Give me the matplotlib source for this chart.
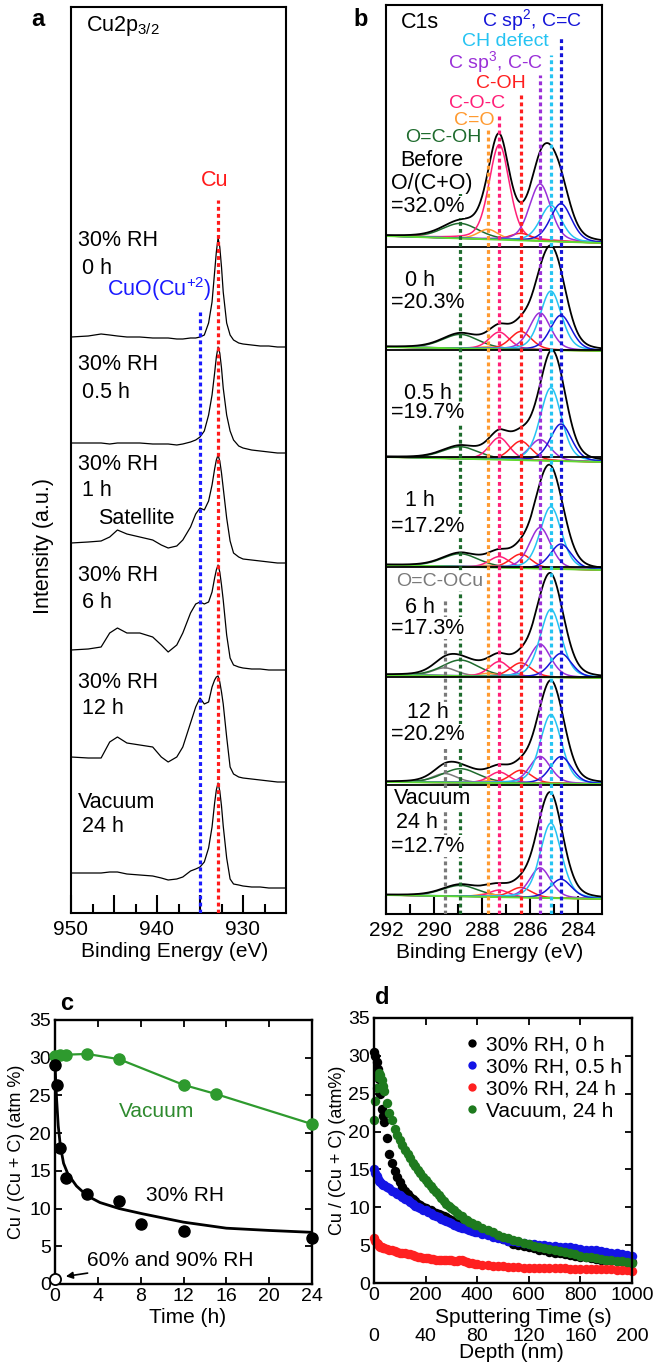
import numpy as np
import matplotlib.pyplot as plt
from matplotlib.lines import Line2D

plt.rcParams['font.family'] = ['Liberation Sans', 'DejaVu Sans']
plt.rcParams['mathtext.fontset'] = 'custom'
plt.rcParams['mathtext.rm'] = 'Liberation Sans'
plt.rcParams['mathtext.it'] = 'Liberation Sans:italic'
plt.rcParams['mathtext.bf'] = 'Liberation Sans:bold'

W, H = 662, 1366

# ---------------- panel a : Cu2p3/2 spectra (heights above own baseline) ----------------
cu_energy = [950, 948, 946.5, 945.5, 944.6, 943.5, 942, 940.5, 939.5, 938.7,
             937.7, 937, 936.1, 935.5, 935, 934.5, 934.0, 933.6, 933.3, 933.1,
             932.9, 932.7, 932.5, 932.3, 931.9, 931.5, 931.1, 930.5, 930, 929,
             928, 927, 926, 925]
cu_0h = [10, 11, 13, 12, 11, 10, 10, 9, 9, 9,
         8, 8, 9, 9, 10, 12, 24, 45, 75, 95,
         109, 100, 80, 55, 24, 12, 7, 4, 3, 2,
         1, 1, 0, 0]
cu_05h = [10, 10, 10, 9, 10, 10, 10, 9, 9, 9,
          8, 9, 11, 13, 16, 22, 38, 58, 80, 96,
          106, 100, 85, 65, 38, 22, 13, 7, 5, 3,
          2, 1, 0, 0]
cu_1h = [20, 21, 22, 26, 33, 29, 26, 23, 18, 15,
         17, 23, 36, 49, 55, 53, 62, 78, 94, 103,
         108, 102, 90, 75, 45, 22, 10, 6, 4, 3,
         2, 1, 0, 0]
cu_6h = [20, 21, 23, 37, 42, 37, 37, 33, 25, 18,
         25, 37, 57, 66, 68, 66, 68, 78, 92, 100,
         105, 98, 85, 70, 35, 12, 5, 3, 2, 1,
         1, 0, 0, 0]
cu_12h = [25, 24, 24, 40, 45, 39, 37, 35, 25, 20,
          25, 35, 59, 75, 84, 78, 80, 95, 102, 105,
          106, 100, 90, 78, 45, 15, 8, 5, 4, 3,
          2, 1, 0, 0]
cu_vac24h = [15, 15, 15, 16, 16, 14, 13, 12, 10, 8,
             9, 11, 17, 19, 21, 26, 40, 61, 85, 98,
             105, 97, 82, 62, 30, 9, 4, 3, 2, 1,
             1, 0, 0, 0]
cu_spectra = [cu_0h, cu_05h, cu_1h, cu_6h, cu_12h, cu_vac24h]
cu_offsets = [566, 460, 350, 243, 131, 25]
cu_metal_ev = 932.85
cuo_ev = 935.0

# ---------------- panel b : C1s fitted components ----------------
comp_names = ['O=C-OCu', 'O=C-OH', 'C=O', 'C-O-C', 'C-OH',
              'C sp$^3$, C-C', 'CH defect', 'C sp$^2$, C=C']
comp_centers = [289.55, 288.9, 287.75, 287.28, 286.38, 285.58, 285.13, 284.71]
comp_fwhm = [1.2, 1.8, 1.0, 1.0, 1.05, 1.05, 1.05, 1.05]
comp_colors = ['#7a7a7a', '#1e6b2d', '#ff9a30', '#ff1f78', '#ff1f1f',
               '#9a30d8', '#25c3f2', '#1414d8']
c1s_heights = [
    [0, 15, 10, 95, 7, 57, 36, 38],    # before
    [0, 14, 2, 17, 18, 37, 59, 35],    # 0 h
    [0, 12, 2, 22, 19, 21, 73, 37],    # 0.5 h
    [0, 13, 2, 11, 14, 41, 62, 25],    # 1 h
    [8, 16, 3, 15, 14, 33, 68, 24],    # 6 h
    [9, 14, 2, 11, 13, 27, 69, 27],    # 12 h
    [0, 11, 3, 7, 10, 30, 75, 19],     # vacuum 24 h
]
c1s_offsets = [671, 563, 452, 344, 236, 130, 15]
c1s_tilts = [7, 4, 5, 5, 3, 2, 4]
c1s_separators = [667, 564, 457, 347, 237, 129]
comp_line_tops = [316, 764, 784, 799, 819, 839, 859, 877]

# ---------------- panel c : Cu/(Cu+C) vs time ----------------
vac_hours = [0, 0.5, 1, 3, 6, 12, 15, 24]
vac_cu = [30.2, 30.3, 30.4, 30.5, 29.8, 26.4, 25.2, 21.2]
rh30_hours = [0, 0.17, 0.5, 1, 3, 6, 8, 12, 24]
rh30_cu = [29.0, 26.4, 18.0, 14.1, 11.9, 11.05, 7.95, 7.07, 6.1]
fit_hours = [0, 0.05, 0.15, 0.3, 0.5, 0.8, 1.2, 2, 3, 4.2, 6, 8.2, 12, 16, 20, 24]
fit_cu = [29.5, 27.5, 24.5, 21.0, 18.3, 16.0, 14.6, 13.0, 11.7, 10.8, 10.0, 9.3,
          8.2, 7.4, 7.1, 6.85]
rh6090_hours = [0]
rh6090_cu = [0.6]

# ---------------- panel d : depth profiles ----------------
sput_time = ([0, 5, 10, 15, 20, 25, 30, 35, 40]
             + list(range(50, 401, 10))
             + list(range(420, 1001, 20)))
prof_rh30_0h = [30.5, 30.0, 29.2, 28.2, 27.0, 25.0, 23.0, 22.0, 21.2,
                19.2, 17.0, 15.8, 14.8, 14.0, 13.3, 12.7, 12.2, 11.8, 11.4,
                11.1, 10.8, 10.5, 10.3, 10.1, 9.9, 9.7, 9.6, 9.4, 9.3,
                9.1, 9.0, 8.8, 8.7, 8.5, 8.3, 8.1, 7.9, 7.7, 7.6,
                7.5, 7.4, 7.3, 7.2, 7.1, 7.0,
                6.8, 6.6, 6.3, 6.1, 5.8, 5.5, 5.2, 5.0, 4.9, 4.7,
                4.6, 4.4, 4.3, 4.1, 4.0, 3.9, 3.8, 3.7, 3.6, 3.5,
                3.4, 3.3, 3.2, 3.1, 3.1, 3.0, 2.9, 2.9, 2.8, 2.8]
prof_rh30_05h = [15.0, 14.5, 14.1, 13.8, 13.5, 13.3, 13.1, 13.0, 12.9,
                 12.7, 12.5, 12.2, 12.0, 11.8, 11.6, 11.4, 11.1, 10.9, 10.7,
                 10.4, 10.2, 10.0, 9.9, 9.7, 9.6, 9.4, 9.2, 9.0, 8.9,
                 8.7, 8.5, 8.3, 8.2, 8.0, 7.9, 7.7, 7.5, 7.4, 7.3,
                 7.2, 7.1, 7.0, 6.9, 6.8, 6.7,
                 6.5, 6.3, 6.1, 5.9, 5.8, 5.6, 5.5, 5.4, 5.3, 5.2,
                 5.1, 5.0, 5.0, 4.9, 4.9, 4.8, 4.7, 4.7, 4.6, 4.5,
                 4.4, 4.4, 4.3, 4.2, 4.1, 4.0, 3.9, 3.8, 3.7, 3.6]
prof_rh30_24h = [6.0, 5.6, 5.3, 5.1, 4.9, 4.8, 4.7, 4.65, 4.6,
                 4.5, 4.4, 4.3, 4.2, 4.1, 4.0, 3.95, 3.9, 3.85, 3.8,
                 3.7, 3.6, 3.5, 3.4, 3.35, 3.3, 3.25, 3.2, 3.15, 3.1,
                 3.05, 3.0, 3.0, 3.0, 3.0, 3.0, 2.95, 2.9, 3.0, 3.0,
                 2.9, 2.8, 2.7, 2.6, 2.55, 2.5,
                 2.4, 2.4, 2.3, 2.2, 2.2, 2.1, 2.1, 2.1, 2.0, 2.0,
                 2.0, 2.0, 2.0, 2.0, 2.0, 2.0, 2.0, 1.9, 1.9, 1.9,
                 1.9, 1.9, 1.9, 1.8, 1.8, 1.8, 1.7, 1.7, 1.7, 1.6]
prof_vac_24h = [21.5, 24.0, 25.8, 27.2, 27.8, 27.5, 26.8, 26.0, 25.3,
                23.8, 22.5, 21.5, 20.4, 19.6, 18.9, 18.2, 17.6, 17.0, 16.5,
                15.9, 15.4, 14.9, 14.5, 14.0, 13.6, 13.2, 12.8, 12.4, 12.0,
                11.6, 11.2, 10.8, 10.5, 10.2, 9.9, 9.6, 9.3, 9.0, 8.8,
                8.5, 8.3, 8.1, 7.9, 7.7, 7.6,
                7.3, 7.0, 6.7, 6.4, 6.1, 5.9, 5.7, 5.5, 5.3, 5.1,
                4.9, 4.8, 4.6, 4.5, 4.4, 4.2, 4.1, 3.9, 3.8, 3.6,
                3.5, 3.4, 3.3, 3.2, 3.1, 3.0, 2.9, 2.9, 2.8, 2.7]
prof_labels = ['30% RH, 0 h', '30% RH, 0.5 h', '30% RH, 24 h', 'Vacuum, 24 h']
prof_colors = ['#000000', '#1414e6', '#ff2020', '#1e7a1e']


def box(l, t, r, b):
    return [l / W, 1 - b / H, (r - l) / W, (b - t) / H]


def ftext(x, y, s, **kw):
    fig.text(x / W, 1 - y / H, s, **kw)


def pvoigt(x, c, h, w, eta=0.3):
    g = np.exp(-4 * np.log(2) * (x - c) ** 2 / w ** 2)
    lor = 1 / (1 + 4 * (x - c) ** 2 / w ** 2)
    return h * (eta * lor + (1 - eta) * g)


fig = plt.figure(figsize=(6.62, 13.66), dpi=100)
dots = (0, (1.2, 1.0))

# ---- a ----
ax = fig.add_axes(box(71, 7, 286, 913))
for spec, off in zip(cu_spectra, cu_offsets):
    ax.plot(cu_energy, np.array(spec) + off, color='k', lw=0.9)
ax.plot([cu_metal_ev, cu_metal_ev], [0, 713], color='#ff1a1a', lw=2.3, ls=dots, zorder=3)
ax.plot([cuo_ev, cuo_ev], [0, 601], color='#1a1aff', lw=2.3, ls=dots, zorder=3)
ax.set_xlim(950, 925)
ax.set_ylim(0, 906)
ax.set_yticks([])
ax.set_xticks([950, 945, 940, 935, 930])
ax.set_xticklabels(['950', '', '940', '', '930'])
ax.set_xticks([947.5, 942.5, 937.5, 932.5, 927.5], minor=True)
ax.tick_params(axis='x', which='major', direction='in', length=13, width=1.5, labelsize=15, pad=5)
ax.tick_params(axis='x', which='minor', direction='in', length=6.5, width=1.5)
for s in ax.spines.values():
    s.set_linewidth(1.5)
ax.set_xlabel('Binding Energy (eV)', fontsize=15)
ax.xaxis.set_label_coords(0.48, -0.032)
ax.set_ylabel('Intensity (a.u.)', fontsize=15.5)
ax.yaxis.set_label_coords(-0.08, 0.405)

fs = 15.5
ftext(86, 26, 'Cu2p$_{3/2}$', fontsize=fs, va='center')
ftext(215, 180, 'Cu', fontsize=fs, color='#ff1a1a', ha='center', va='center')
ftext(107, 289, 'CuO(Cu$^{+2}$)', fontsize=fs, color='#1a1aff', va='center')
ftext(98, 518, 'Satellite', fontsize=fs, va='center')
a_labels = [('30% RH', '0 h', 240, 268), ('30% RH', '0.5 h', 365, 392),
            ('30% RH', '1 h', 465, 490), ('30% RH', '6 h', 575, 602),
            ('30% RH', '12 h', 682, 708), ('Vacuum', '24 h', 802, 827)]
for l1, l2, y1, y2 in a_labels:
    ftext(78, y1, l1, fontsize=fs, va='center')
    ftext(82, y2, l2, fontsize=fs, va='center')

# ---- b ----
ax = fig.add_axes(box(386, 5, 602, 914))
xe = np.linspace(283, 292, 500)
for heights, off, tilt in zip(c1s_heights, c1s_offsets, c1s_tilts):
    base = off + tilt * (xe - 283) / 9.0
    total = base.copy()
    for c, h, w, col in zip(comp_centers, heights, comp_fwhm, comp_colors):
        if h <= 0:
            continue
        comp = pvoigt(xe, c, h, w)
        total += comp
        ax.plot(xe, base + comp, color=col, lw=1.1)
    ax.plot(xe, base, color='#5fdc32', lw=1.4)
    ax.plot(xe, total, color='k', lw=1.3)
for y in c1s_separators:
    ax.axhline(y, color='k', lw=1.3)
for c, col, top in zip(comp_centers, comp_colors, comp_line_tops):
    ax.plot([c, c], [0, top], color=col, lw=2.3, ls=dots, zorder=3)
ax.set_xlim(292, 283)
ax.set_ylim(0, 909)
ax.set_yticks([])
ax.set_xticks([292, 290, 288, 286, 284])
ax.set_xticks([291, 289, 287, 285], minor=True)
ax.tick_params(axis='x', which='major', direction='in', length=13, width=1.5, labelsize=15, pad=5)
ax.tick_params(axis='x', which='minor', direction='in', length=7, width=1.5)
for s in ax.spines.values():
    s.set_linewidth(1.5)
ax.set_xlabel('Binding Energy (eV)', fontsize=15)
ax.xaxis.set_label_coords(0.48, -0.032)

wb = dict(facecolor='white', edgecolor='none', pad=0.3)
ftext(420, 22, 'C1s', fontsize=fs, ha='center', va='center')
name_pos = [(440, 582), (443.5, 138), (474, 120.5), (477, 104), (501, 83),
            (496, 62), (505, 42), (532, 20)]
for i, (name, col, (x, y)) in enumerate(zip(comp_names, comp_colors, name_pos)):
    ftext(x, y, name, fontsize=14, color=col, ha='center', va='center',
          bbox=wb if i == 0 else None)
b_labels = [('Before', 432, 161), ('O/(C+O)', 432, 183), ('=32.0%', 428, 207),
            ('0 h', 420, 281), ('=20.3%', 428, 302),
            ('0.5 h', 428, 393), ('=19.7%', 428, 413),
            ('1 h', 420, 500), ('=17.2%', 428, 526),
            ('6 h', 420, 607), ('=17.3%', 428, 628),
            ('12 h', 428, 713), ('=20.2%', 428, 735),
            ('Vacuum', 433, 799), ('24 h', 417, 823), ('=12.7%', 428, 846)]
for s, x, y in b_labels:
    ftext(x, y, s, fontsize=fs, ha='center', va='center', bbox=wb)

# ---- c ----
ax = fig.add_axes(box(55, 1020, 312, 1284))
ax.plot(vac_hours, vac_cu, color='#2e9a2e', lw=1.6, marker='o', ms=8, clip_on=False, zorder=3)
ax.plot(fit_hours, fit_cu, color='k', lw=2, zorder=2)
ax.plot(rh30_hours, rh30_cu, 'o', color='k', ms=8, clip_on=False, zorder=4)
ax.plot(rh6090_hours, rh6090_cu, 'o', mfc='white', mec='k', mew=1.3, ms=8, clip_on=False, zorder=5)
ax.text(9.5, 22.9, 'Vacuum', fontsize=15, color='#2e8a2e', ha='center', va='center')
ax.text(12.1, 11.7, '30% RH', fontsize=15, ha='center', va='center')
ax.annotate('60% and 90% RH', xy=(0.5, 0.9), xytext=(3.0, 3.1), fontsize=15, va='center',
            arrowprops=dict(arrowstyle='-|>', color='k', lw=1.2, shrinkA=1, shrinkB=4,
                            mutation_scale=10))
ax.set_xlim(0, 24)
ax.set_ylim(0, 35)
ax.set_xticks(range(0, 25, 4))
ax.set_yticks(range(0, 36, 5))
ax.tick_params(direction='in', top=True, right=True, length=5, width=1.3, labelsize=14, pad=3)
for s in ax.spines.values():
    s.set_linewidth(1.7)
ax.set_xlabel('Time (h)', fontsize=15)
ax.xaxis.set_label_coords(0.516, -0.09)
ax.set_ylabel('Cu / (Cu + C) (atm %)', fontsize=13)
ax.yaxis.set_label_coords(-0.115, 0.5)

# ---- d ----
ax = fig.add_axes(box(374, 1018, 632, 1283))
for prof, col in zip([prof_rh30_0h, prof_rh30_05h, prof_rh30_24h, prof_vac_24h], prof_colors):
    ax.plot(sput_time, prof, 'o', color=col, ms=6.8, mew=0, clip_on=False)
handles = [Line2D([], [], ls='none', marker='o', ms=6, mew=0, color=c) for c in prof_colors]
ax.legend(handles, prof_labels, loc='upper left', bbox_to_anchor=(0.355, 0.935), frameon=False,
          fontsize=15, handlelength=0.6, handletextpad=0.4, labelspacing=0.15,
          borderpad=0, borderaxespad=0)
ax.set_xlim(0, 1000)
ax.set_ylim(0, 35)
ax.set_xticks(range(0, 1001, 200))
ax.set_yticks(range(0, 36, 5))
ax.tick_params(direction='in', top=True, right=True, length=5, width=1.3, labelsize=14, pad=3)
for s in ax.spines.values():
    s.set_linewidth(1.7)
ax.set_xlabel('Sputtering Time (s)', fontsize=15)
ax.xaxis.set_label_coords(0.58, -0.095)
ax.set_ylabel('Cu / (Cu + C) (atm%)', fontsize=13)
ax.yaxis.set_label_coords(-0.11, 0.5)
sec = ax.secondary_xaxis(-0.17, functions=(lambda t: t / 5, lambda d: d * 5))
sec.set_xticks([0, 40, 80, 120, 160, 200])
sec.spines['bottom'].set_visible(False)
sec.tick_params(length=0, labelsize=14, pad=0)
ftext(511, 1353, 'Depth (nm)', fontsize=15, ha='center', va='center')

# panel letters
for s, x, y in [('a', 38, 19), ('b', 361, 20), ('c', 67, 1004), ('d', 382, 997)]:
    ftext(x, y, s, fontsize=17, fontweight='bold', ha='center', va='center')

fig.savefig('out.png', dpi=100)
